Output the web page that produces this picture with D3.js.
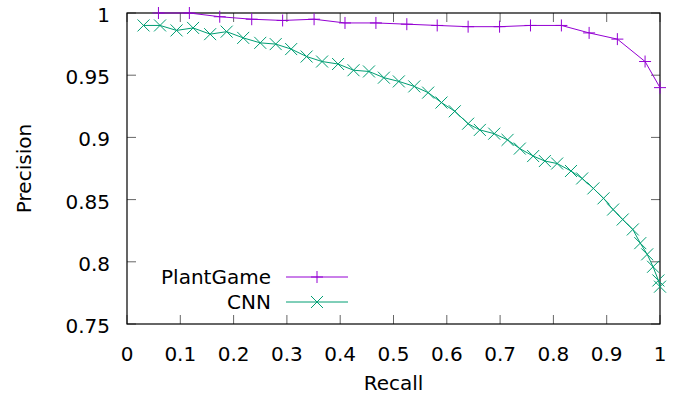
<!DOCTYPE html>
<html>
<head>
<meta charset="utf-8">
<script src="https://cdn.jsdelivr.net/npm/d3@7"></script>
<style>
  body { margin: 0; background: #fff; }
  svg text { font-family: "DejaVu Sans", sans-serif; font-size: 20px; fill: #000; }
</style>
</head>
<body>
<svg id="chart" width="681" height="399"></svg>
<script>
// recall / precision
var plantRecall = [0.059, 0.117, 0.174, 0.234, 0.292, 0.351, 0.409, 0.467, 0.525, 0.582,
                   0.640, 0.699, 0.757, 0.815, 0.867, 0.920, 0.972, 1.0];
var plantPrecision = [1.0, 1.0, 0.997, 0.995, 0.994, 0.995, 0.992, 0.992, 0.991, 0.990,
                      0.989, 0.989, 0.990, 0.990, 0.984, 0.979, 0.961, 0.940];

var cnnRecall = [0.031, 0.062, 0.093, 0.124, 0.156, 0.187, 0.218, 0.250, 0.279, 0.308,
                 0.337, 0.366, 0.396, 0.425, 0.454, 0.482, 0.510, 0.539, 0.565, 0.590,
                 0.615, 0.640, 0.662, 0.689, 0.714, 0.737, 0.762, 0.784, 0.807, 0.833,
                 0.854, 0.875, 0.894, 0.912, 0.930, 0.949, 0.963, 0.976, 0.987, 0.997, 1.0];
var cnnPrecision = [0.990, 0.990, 0.986, 0.988, 0.983, 0.985, 0.980, 0.976, 0.975, 0.971,
                    0.965, 0.961, 0.959, 0.954, 0.953, 0.948, 0.945, 0.941, 0.936, 0.928,
                    0.921, 0.911, 0.906, 0.903, 0.898, 0.891, 0.885, 0.881, 0.879, 0.873,
                    0.867, 0.859, 0.851, 0.842, 0.834, 0.826, 0.815, 0.806, 0.796, 0.785, 0.780];

var xTicks = [0, 0.1, 0.2, 0.3, 0.4, 0.5, 0.6, 0.7, 0.8, 0.9, 1];
var yTicks = [0.75, 0.8, 0.85, 0.9, 0.95, 1];

var plantColor = "#9400d3";
var cnnColor = "#009e73";

var margin = {left: 127, right: 21, top: 13, bottom: 75};
var svg = d3.select("#chart");
var W = +svg.attr("width"), H = +svg.attr("height");
var x = d3.scaleLinear().domain([0, 1]).range([margin.left, W - margin.right]);
var y = d3.scaleLinear().domain([0.75, 1]).range([H - margin.bottom, margin.top]);

var tickLen = 9;
var fmt = d3.format("");

// ticks (mirrored on all four sides, pointing inward)
var tickG = svg.append("g").attr("stroke", "#666").attr("stroke-width", 1);
xTicks.forEach(function(t) {
    tickG.append("line").attr("x1", x(t)).attr("x2", x(t))
        .attr("y1", y(0.75)).attr("y2", y(0.75) - tickLen);
    tickG.append("line").attr("x1", x(t)).attr("x2", x(t))
        .attr("y1", y(1)).attr("y2", y(1) + tickLen);
});
yTicks.forEach(function(t) {
    tickG.append("line").attr("x1", x(0)).attr("x2", x(0) + tickLen)
        .attr("y1", y(t)).attr("y2", y(t));
    tickG.append("line").attr("x1", x(1)).attr("x2", x(1) - tickLen)
        .attr("y1", y(t)).attr("y2", y(t));
});

// border
svg.append("rect")
    .attr("x", x(0)).attr("y", y(1))
    .attr("width", x(1) - x(0)).attr("height", y(0.75) - y(1))
    .attr("fill", "none").attr("stroke", "#000").attr("stroke-width", 1.2);

// tick labels
svg.selectAll("text.xt").data(xTicks).enter().append("text")
    .attr("class", "xt")
    .attr("x", function(d) { return x(d); })
    .attr("y", y(0.75) + 37)
    .attr("text-anchor", "middle")
    .text(function(d) { return fmt(d); });

svg.selectAll("text.yt").data(yTicks).enter().append("text")
    .attr("class", "yt")
    .attr("x", x(0) - 17)
    .attr("y", function(d) { return y(d) + 9; })
    .attr("text-anchor", "end")
    .text(function(d) { return fmt(d); });

// axis titles
svg.append("text")
    .attr("x", (x(0) + x(1)) / 2).attr("y", 390)
    .attr("text-anchor", "middle")
    .text("Recall");
svg.append("text")
    .attr("transform", "translate(31," + ((y(0.75) + y(1)) / 2) + ") rotate(-90)")
    .attr("text-anchor", "middle")
    .text("Precision");

// series
var line = d3.line()
    .x(function(d) { return x(d[0]); })
    .y(function(d) { return y(d[1]); });

var plantData = d3.zip(plantRecall, plantPrecision);
var cnnData = d3.zip(cnnRecall, cnnPrecision);

function plusPath(px, py, s) {
    return "M" + (px - s) + "," + py + "H" + (px + s) + "M" + px + "," + (py - s) + "V" + (py + s);
}
function crossPath(px, py, s) {
    return "M" + (px - s) + "," + (py - s) + "L" + (px + s) + "," + (py + s) +
           "M" + (px - s) + "," + (py + s) + "L" + (px + s) + "," + (py - s);
}

function drawSeries(data, color, marker) {
    svg.append("path").datum(data)
        .attr("fill", "none").attr("stroke", color).attr("stroke-width", 1)
        .attr("d", line);
    svg.append("g").selectAll("path").data(data).enter().append("path")
        .attr("fill", "none").attr("stroke", color).attr("stroke-width", 1)
        .attr("d", function(d) { return marker(x(d[0]), y(d[1]), 6); });
}
drawSeries(cnnData, cnnColor, crossPath);
drawSeries(plantData, plantColor, plusPath);

// legend
var legend = [
    {name: "PlantGame", color: plantColor, marker: plusPath, ly: 277},
    {name: "CNN", color: cnnColor, marker: crossPath, ly: 302}
];
legend.forEach(function(l) {
    svg.append("text").attr("x", 271).attr("y", l.ly + 7)
        .attr("text-anchor", "end").text(l.name);
    svg.append("line").attr("x1", 286).attr("x2", 348)
        .attr("y1", l.ly).attr("y2", l.ly)
        .attr("stroke", l.color).attr("stroke-width", 1);
    svg.append("path").attr("fill", "none").attr("stroke", l.color)
        .attr("d", l.marker(317, l.ly, 6));
});
</script>
</body>
</html>
